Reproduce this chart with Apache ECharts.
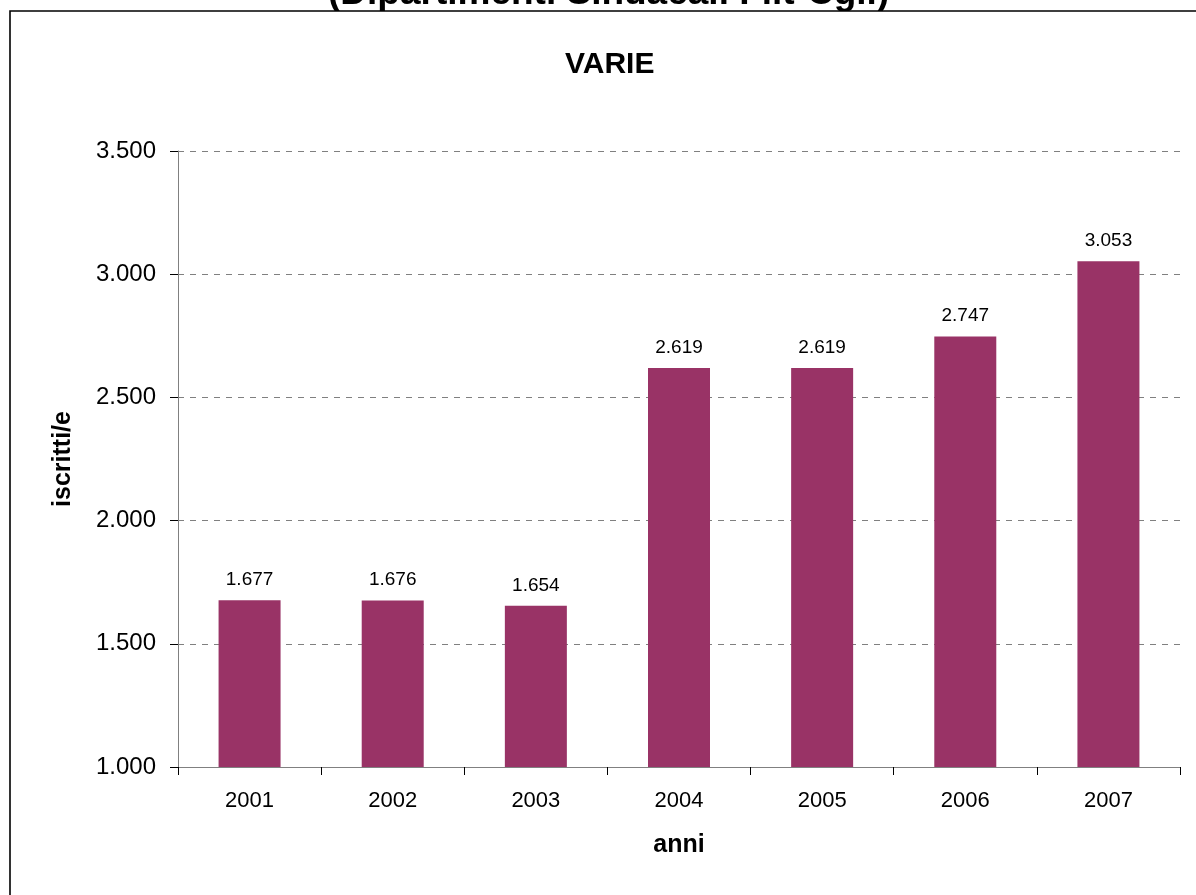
<!DOCTYPE html>
<html><head><meta charset="utf-8">
<script src="https://cdn.jsdelivr.net/npm/echarts@6/dist/echarts.min.js"></script>
<style>html,body{margin:0;padding:0;background:#fff}#c{width:1196px;height:895px}</style>
</head><body><div id="c"></div>
<script>
const categories = ['2001','2002','2003','2004','2005','2006','2007'];
const iscritti = [1677,1676,1654,2619,2619,2747,3053];
const yTicks = [1000,1500,2000,2500,3000,3500];

function fmt(v){ return String(v).replace(/\B(?=(\d{3})+(?!\d))/g,'.'); }
const FF = 'Liberation Sans, Arial, sans-serif';

const chart = echarts.init(document.getElementById('c'));
chart.setOption({
  animation:false,
  backgroundColor:'#fff',
  textStyle:{fontFamily:FF},
  graphic:[{type:'rect',z:1,shape:{x:10,y:11,width:1400,height:1000},style:{fill:'#fff',stroke:'#000',lineWidth:1.6}}],
  title:[
    {text:'(Dipartimenti Sindacali Filt-Cgil)',left:323,top:-30,z:-5,textStyle:{fontSize:37,fontWeight:'bold',color:'#000',fontFamily:FF}},
    {text:'VARIE',left:560,top:45,z:10,textStyle:{fontSize:30,fontWeight:'bold',color:'#000',fontFamily:FF}}
  ],
  grid:{left:178,right:16,top:151,bottom:128,containLabel:false,z:5},
  xAxis:{type:'category',data:categories,boundaryGap:true,z:5,
    name:'anni',nameLocation:'middle',nameGap:66,
    nameTextStyle:{fontSize:25,fontWeight:'bold',color:'#000'},
    axisLine:{lineStyle:{color:'#808080',width:1}},
    axisTick:{show:true,alignWithLabel:false,length:8,lineStyle:{color:'#000'}},
    axisLabel:{fontSize:22,color:'#000',margin:23}},
  yAxis:{type:'value',min:yTicks[0],max:yTicks[yTicks.length-1],interval:500,z:5,
    name:'iscritti/e',nameLocation:'middle',nameGap:102,nameRotate:90,
    nameTextStyle:{fontSize:25,fontWeight:'bold',color:'#000'},
    axisLine:{show:true,lineStyle:{color:'#808080',width:1}},
    axisTick:{show:true,length:8,lineStyle:{color:'#000'}},
    axisLabel:{fontSize:24,color:'#000',margin:22,formatter:fmt},
    splitLine:{show:true,lineStyle:{color:'#808080',type:[6,6],width:1}}},
  series:[{type:'bar',data:iscritti,barWidth:62,z:6,
    itemStyle:{color:'#993366'},
    label:{show:true,position:'top',distance:11,fontSize:19,color:'#000',formatter:p=>fmt(p.value)}}]
});
</script></body></html>
